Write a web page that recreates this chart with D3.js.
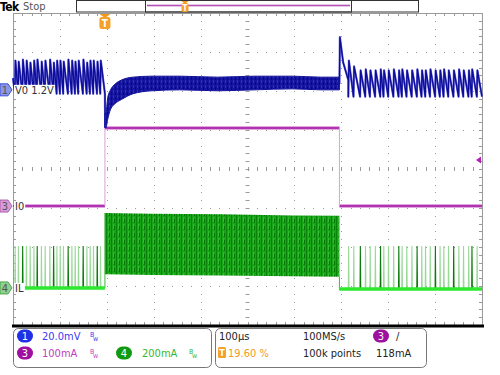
<!DOCTYPE html>
<html>
<head>
<meta charset="utf-8">
<title>Load transient</title>
<script src="https://d3js.org/d3.v7.min.js"></script>
<style>
  * { margin: 0; padding: 0; }
  body { background: #fff; }
  svg text { font-family: "Liberation Sans Narrow", "DejaVu Sans", sans-serif; font-stretch: condensed; }
</style>
</head>
<body>
<svg id="scope" width="500" height="375"></svg>
<script>
// time base 100 µs/div, trigger at 19.6 % of the record
const timeRange = [-196, 804];

// switching pulses (µs) before and after the load pulse
const pulsesPre = [-192, -185, -176, -168, -160, -152, -145, -136, -128, -118, -110, -103,
                   -96, -89, -79, -71, -64, -57, -47, -39, -32, -25, -17, -10];
const peaksPre  = [15, 14.5, 15.5, 15, 14, 15, 15.5, 14.5, 15, 15.5, 14, 15,
                   15, 14.5, 15.5, 15, 14.5, 15, 15.5, 14, 15, 15, 14.5, 15];
const pulsesPost = [519, 530, 544, 555, 565, 576, 587, 594, 604, 615, 626, 633, 643, 654,
                    665, 675, 683, 693, 704, 714, 722, 732, 743, 754, 764, 775, 782, 793];
const peaksPost  = [15, 12, 10, 10.5, 10, 10, 10.5, 10, 10, 10.5, 10, 10.5, 10, 10,
                    10.5, 10, 10, 10.5, 10, 10, 10.5, 10, 10, 10.5, 10, 10, 10.5, 10];
const valleyPre = -2;     // mV
const valleyPost = -3.5;  // mV

// V0 (mV around 1.2 V) while the 200 mA load is on
const loadT  = [0, 2, 6, 12, 22, 35, 60, 100, 160, 240, 320, 400, 460, 500];
const loadLo = [-19.5, -19.5, -15, -10, -7, -5, -2, -0.5, 0, -0.5, 0, 0.5, 0, 0];
const loadHi = [-12, -12, -4, 0, 3, 5, 6.5, 7, 7, 6.5, 7, 7, 6.5, 6.5];
// overshoot when the load is released
const releaseT = [500, 501, 508, 519];
const releaseV = [3, 27, 14, 5];

// I0 load current (mA): level held between step times
const ioSteps = [-196, 0, 500, 804];
const ioLevels = [0, 200, 0];

// IL inductor current (mA)
const ilPeak = 215;
const ilBlockT  = [0, 100, 250, 400, 500];
const ilBlockLo = [70, 66, 64, 60, 58];
const ilBlockHi = [385, 380, 378, 372, 370];

// channel settings: scale per div and marker position (div from centre)
const ch1 = { scale: 20, pos: 2.03 };
const ch3 = { scale: 100, pos: -0.95 };
const ch4 = { scale: 200, pos: -3.05 };
const trigLevel = 118; // mA on ch3

const svg = d3.select("#scope");
const x = d3.scaleLinear().domain(timeRange).range([13, 482]);
const xDiv = d3.scaleLinear().domain([0, 10]).range([13, 482]);
const yDiv = d3.scaleLinear().domain([-4, 4]).range([325, 13]);
const yCh = ch => v => yDiv(ch.pos + v / ch.scale);
const y1 = yCh(ch1), y3 = yCh(ch3), y4 = yCh(ch4);

// ---------- graticule ----------
const grid = svg.append("g").attr("fill", "#9a9a9a");
const minorX = d3.range(0, 50.01, 1).map(i => xDiv(i / 5));
const minorY = d3.range(0, 40.01, 1).map(i => yDiv(-4 + i / 5));
for (let k = 1; k < 10; k++) {
  minorY.forEach(yy => grid.append("rect").attr("x", Math.round(xDiv(k))).attr("y", Math.round(yy)).attr("width", 1).attr("height", 1));
}
for (let k = 1; k < 8; k++) {
  minorX.forEach(xx => grid.append("rect").attr("x", Math.round(xx)).attr("y", Math.round(yDiv(k - 4))).attr("width", 1).attr("height", 1));
}
const ticks = svg.append("g").attr("stroke", "#9a9a9a").attr("stroke-width", 1);
minorX.forEach(xx => {
  const xr = Math.round(xx) + 0.5;
  ticks.append("line").attr("x1", xr).attr("x2", xr).attr("y1", 13).attr("y2", 16);
  ticks.append("line").attr("x1", xr).attr("x2", xr).attr("y1", 322).attr("y2", 325);
  ticks.append("line").attr("x1", xr).attr("x2", xr).attr("y1", yDiv(0) - 2).attr("y2", yDiv(0) + 2);
});
minorY.forEach(yy => {
  const yr = Math.round(yy) + 0.5;
  ticks.append("line").attr("x1", 13).attr("x2", 16).attr("y1", yr).attr("y2", yr);
  ticks.append("line").attr("x1", 479).attr("x2", 482).attr("y1", yr).attr("y2", yr);
  ticks.append("line").attr("x1", xDiv(5) - 2).attr("x2", xDiv(5) + 2).attr("y1", yr).attr("y2", yr);
});
ticks.append("line").attr("x1", 13.5).attr("x2", 13.5).attr("y1", 13).attr("y2", 326);
ticks.append("line").attr("x1", 482.5).attr("x2", 482.5).attr("y1", 13).attr("y2", 326);
ticks.append("line").attr("x1", 13).attr("x2", 483).attr("y1", 13.5).attr("y2", 13.5);
svg.append("line").attr("x1", 12).attr("x2", 484).attr("y1", 326).attr("y2", 326)
  .attr("stroke", "#000").attr("stroke-width", 3);

// ---------- patterns ----------
const defs = svg.append("defs");
const gp = defs.append("pattern").attr("id", "ilFill").attr("patternUnits", "userSpaceOnUse")
  .attr("width", 5).attr("height", 7);
gp.append("rect").attr("width", 5).attr("height", 7).attr("fill", "#17a517");
gp.append("rect").attr("x", 1).attr("width", 1).attr("height", 7).attr("fill", "#0a830a");
gp.append("rect").attr("x", 3).attr("width", 1).attr("height", 5).attr("fill", "#33bb33");
gp.append("rect").attr("x", 4).attr("y", 2).attr("width", 1).attr("height", 4).attr("fill", "#077407");
const bp = defs.append("pattern").attr("id", "v0Fill").attr("patternUnits", "userSpaceOnUse")
  .attr("width", 4).attr("height", 5);
bp.append("rect").attr("width", 4).attr("height", 5).attr("fill", "#14149e");
bp.append("rect").attr("x", 1).attr("width", 1).attr("height", 3).attr("fill", "#3030b8");
bp.append("rect").attr("x", 3).attr("y", 2).attr("width", 1).attr("height", 3).attr("fill", "#08087e");

const line = d3.line().x(d => x(d[0])).y(d => d[1]);

// ---------- channel 4: IL ----------
const g4 = svg.append("g");
g4.append("path")
  .datum(ilBlockT.map((t, i) => [t, ilBlockLo[i], ilBlockHi[i]]))
  .attr("fill", "url(#ilFill)")
  .attr("d", d3.area().x(d => x(d[0])).y0(d => y4(d[1])).y1(d => y4(d[2])));
g4.append("path").datum([[0, y4(0)], [0, y4(ilBlockHi[0])]]).attr("d", line)
  .attr("stroke", "#3cb83c").attr("stroke-width", 1);
g4.append("path").datum([[500, y4(ilBlockLo[4])], [500, y4(0) + 2]]).attr("d", line)
  .attr("stroke", "#3cb83c").attr("stroke-width", 1);
const spikes = pulsesPre.concat(pulsesPost);
spikes.forEach((t, i) => {
  g4.append("path")
    .datum([[t, y4(0)], [t + 0.6, y4(ilPeak)], [t + 1.4, y4(0)]])
    .attr("d", line).attr("fill", "none")
    .attr("stroke", i % 4 === 2 ? "#0b7a0b" : "#9ad89a").attr("stroke-width", 1.1);
});
[[timeRange[0], 0], [500, timeRange[1]]].forEach(seg => {
  g4.append("path").datum(seg.map(t => [t, y4(0) + (seg[0] === 500 ? 1 : 0)]))
    .attr("d", line).attr("stroke", "#2ee82e").attr("stroke-width", 3.5);
});

// ---------- channel 3: I0 ----------
const g3 = svg.append("g");
ioLevels.forEach((v, i) => {
  const seg = [[ioSteps[i], y3(v)], [ioSteps[i + 1], y3(v)]];
  g3.append("path").datum(seg).attr("d", line).attr("stroke", "#d98ad9").attr("stroke-width", 3.5);
  g3.append("path").datum(seg).attr("d", line).attr("stroke", "#a018a0").attr("stroke-width", 1.6);
  if (i > 0) {
    g3.append("path").datum([[ioSteps[i], y3(ioLevels[i - 1])], [ioSteps[i], y3(v)]])
      .attr("d", line).attr("stroke", "#d7a2d7").attr("stroke-width", 1);
  }
});

// ---------- channel 1: V0 ----------
const g1 = svg.append("g");
function sawtooth(pulses, peaks, valley, t0, t1, v0) {
  const pts = [[t0, y1(v0)]];
  pulses.forEach((t, i) => {
    pts.push([t, y1(valley)]);
    pts.push([t + 1.2, y1(peaks[i])]);
  });
  pts.push([t1, y1(valley)]);
  return pts;
}
const prePts = sawtooth(pulsesPre, peaksPre, valleyPre, timeRange[0], 0, 6);
prePts.push([0.5, y1(loadLo[0])]);
const postPts = releaseT.map((t, i) => [t, y1(releaseV[i])])
  .concat(sawtooth(pulsesPost, peaksPost, valleyPost, 519, timeRange[1], releaseV[3]).slice(1));
[prePts, postPts].forEach(p => {
  g1.append("path").datum(p).attr("d", line).attr("fill", "none")
    .attr("stroke", "#6a6ad8").attr("stroke-width", 2.2).attr("stroke-linejoin", "round");
  g1.append("path").datum(p).attr("d", line).attr("fill", "none")
    .attr("stroke", "#0c0c98").attr("stroke-width", 1.3).attr("stroke-linejoin", "round");
});
g1.append("path")
  .datum(loadT.map((t, i) => [t, loadLo[i], loadHi[i]]))
  .attr("fill", "url(#v0Fill)").attr("stroke", "#12129c").attr("stroke-width", 1)
  .attr("d", d3.area().curve(d3.curveMonotoneX).x(d => x(d[0])).y0(d => y1(d[1])).y1(d => y1(d[2])));

// ---------- channel labels and markers ----------
function marker(yy, n, fill, stroke) {
  const g = svg.append("g").attr("transform", `translate(0,${yy})`);
  g.append("path").attr("d", "M0,-6 L8,-6 L12,0 L8,6 L0,6 Z")
    .attr("fill", fill).attr("stroke", stroke).attr("stroke-width", 1);
  g.append("text").attr("x", 5).attr("y", 4).attr("text-anchor", "middle")
    .attr("font-size", 11).attr("fill", "#555").text(n);
}
function label(yy, txt) {
  const t = svg.append("text").attr("x", 15).attr("y", yy + 4).attr("font-size", 11)
    .attr("fill", "#333").text(txt);
  const bb = t.node().getBBox();
  svg.insert("rect", () => t.node()).attr("x", bb.x - 1).attr("y", bb.y + 1)
    .attr("width", bb.width + 2).attr("height", bb.height - 2).attr("fill", "#fff");
}
label(y1(0), "V0 1.2V");
label(y3(0), "I0");
label(y4(0), "IL");
marker(y1(0), "1", "#8a96e6", "#3f4fd8");
marker(y3(0), "3", "#d89ad8", "#b060b0");
marker(y4(0), "4", "#8fcf8f", "#4aa84a");

// trigger level marker on the right
svg.append("path").attr("d", `M476,${y3(trigLevel)} L481,${y3(trigLevel) - 3.5} L481,${y3(trigLevel) + 3.5} Z`)
  .attr("fill", "#b020b0");

// trigger position marker
function trigT(cx, top, w, h) {
  const g = svg.append("g").attr("transform", `translate(${cx},${top})`);
  g.append("path").attr("d", `M${-w / 2},0 L${w / 2},0 L0,4 Z`).attr("fill", "#f39a1e");
  g.append("rect").attr("x", -w / 2).attr("y", 3).attr("width", w).attr("height", h)
    .attr("rx", 2.5).attr("fill", "#f5a028");
  g.append("text").attr("x", 0).attr("y", 3 + h - 2.5).attr("text-anchor", "middle")
    .attr("font-size", h - 2).attr("font-weight", "bold").attr("fill", "#fff").text("T");
}
trigT(x(0), 14, 11, 12);

// ---------- header ----------
svg.append("text").attr("x", 0).attr("y", 11).attr("font-size", 12).attr("font-weight", "bold")
  .attr("fill", "#000").style("letter-spacing", "-0.5px").text("Tek");
svg.append("text").attr("x", 23).attr("y", 10).attr("font-size", 11).attr("fill", "#555").text("Stop");
svg.append("rect").attr("x", 76.5).attr("y", 0.5).attr("width", 342).attr("height", 11.5)
  .attr("fill", "#fff").attr("stroke", "#333");
svg.append("rect").attr("x", 145.5).attr("y", 0.5).attr("width", 206).attr("height", 11.5)
  .attr("fill", "none").attr("stroke", "#333");
svg.append("line").attr("x1", 147).attr("x2", 350).attr("y1", 5.5).attr("y2", 5.5)
  .attr("stroke", "#cf8fcf").attr("stroke-width", 2);
svg.append("line").attr("x1", 147).attr("x2", 350).attr("y1", 5.5).attr("y2", 5.5)
  .attr("stroke", "#b040b0").attr("stroke-width", 0.8);
{
  const g = svg.append("g").attr("transform", "translate(185,1)");
  g.append("path").attr("d", "M-3.5,0 L3.5,0 L0,3 Z").attr("fill", "#f39a1e");
  g.append("rect").attr("x", -3.5).attr("y", 2).attr("width", 7).attr("height", 9).attr("rx", 2).attr("fill", "#f5a028");
  g.append("text").attr("x", 0).attr("y", 9.5).attr("text-anchor", "middle").attr("font-size", 8)
    .attr("font-weight", "bold").attr("fill", "#fff").text("T");
}

// ---------- bottom readout ----------
svg.append("rect").attr("x", 13.5).attr("y", 328.5).attr("width", 198).attr("height", 39)
  .attr("rx", 5).attr("fill", "#fff").attr("stroke", "#777");
svg.append("rect").attr("x", 215.5).attr("y", 328.5).attr("width", 211).attr("height", 39)
  .attr("rx", 5).attr("fill", "#fff").attr("stroke", "#777");
function badge(cx, cy, n, fill) {
  svg.append("rect").attr("x", cx - 8).attr("y", cy - 6.5).attr("width", 16).attr("height", 13)
    .attr("rx", 6.5).attr("fill", fill);
  svg.append("text").attr("x", cx).attr("y", cy + 4).attr("text-anchor", "middle")
    .attr("font-size", 11).attr("fill", "#fff").text(n);
}
function bw(xx, yy, col) {
  svg.append("text").attr("x", xx).attr("y", yy - 3).attr("font-size", 7).attr("fill", col).text("B");
  svg.append("text").attr("x", xx + 3).attr("y", yy + 1).attr("font-size", 7).attr("fill", col).text("w");
}
function txt(xx, yy, s, col) {
  svg.append("text").attr("x", xx).attr("y", yy).attr("font-size", 11).attr("fill", col).text(s);
}
const row1 = 340, row2 = 357;
badge(25, row1 - 4, "1", "#1f30e6");
txt(42, row1, "20.0mV", "#3a3af0");
bw(90, row1, "#3a3af0");
badge(25, row2 - 4, "3", "#a010a0");
txt(42, row2, "100mA", "#c03cc0");
bw(90, row2, "#c03cc0");
badge(124, row2 - 4, "4", "#109a10");
txt(142, row2, "200mA", "#34b834");
bw(189, row2, "#34b834");

txt(219, row1, "100µs", "#222");
svg.append("rect").attr("x", 218).attr("y", row2 - 10).attr("width", 8).attr("height", 11)
  .attr("rx", 1.5).attr("fill", "#f5a028");
svg.append("text").attr("x", 222).attr("y", row2 - 1).attr("text-anchor", "middle")
  .attr("font-size", 9).attr("font-weight", "bold").attr("fill", "#fff").text("T");
txt(228, row2, "19.60 %", "#f59a18");
txt(303, row1, "100MS/s", "#222");
txt(303, row2, "100k points", "#222");
badge(381, row1 - 4, "3", "#a010a0");
txt(396, row1, "/", "#222");
txt(376, row2, "118mA", "#222");
</script>
</body>
</html>
